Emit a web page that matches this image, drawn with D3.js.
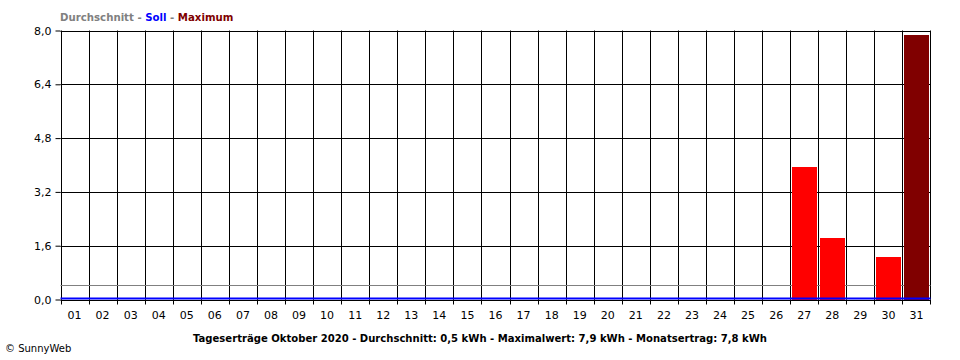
<!DOCTYPE html>
<html><head><meta charset="utf-8">
<script src="https://cdn.jsdelivr.net/npm/d3@7"></script>
<style>body{margin:0;background:#fff}svg{display:block}text{font-family:"DejaVu Sans",Verdana,sans-serif}</style>
</head><body>
<svg id="c" width="960" height="360"></svg>
<script>
const days = ["01","02","03","04","05","06","07","08","09","10","11","12","13","14","15","16","17","18","19","20","21","22","23","24","25","26","27","28","29","30","31"];
const values = [0,0,0,0,0,0,0,0,0,0,0,0,0,0,0,0,0,0,0,0,0,0,0,0,0,0,3.95,1.84,0,1.25,7.88];
const yTicks = [0,1.6,3.2,4.8,6.4,8.0];
const average = 0.42;
const target = 0.03;
const legendParts = [["Durchschnitt","#808080"],[" - ","#808080"],["Soll","#0000ff"],[" - ","#808080"],["Maximum","#800000"]];
const title = "Tageserträge Oktober 2020 - Durchschnitt: 0,5 kWh - Maximalwert: 7,9 kWh - Monatsertrag: 7,8 kWh";

const svg = d3.select("#c");
const L=60.5, R=930.5, T=30.5, B=299.5;
const xs = d3.scaleBand().domain(days).range([L,R]);
const y = d3.scaleLinear().domain([0,8]).range([B,T]);
const maxV = d3.max(values);

// grid
const g = svg.append("g");
g.selectAll("line.h").data(yTicks).join("line")
  .attr("x1",L).attr("x2",R).attr("y1",d=>Math.round(y(d))+0.5).attr("y2",d=>Math.round(y(d))+0.5)
  .attr("stroke","#000");
g.selectAll("line.v").data(days).join("line")
  .attr("x1",d=>Math.round(xs(d))+0.5).attr("x2",d=>Math.round(xs(d))+0.5).attr("y1",T).attr("y2",B)
  .attr("stroke","#000");
g.append("line").attr("x1",R).attr("x2",R).attr("y1",T).attr("y2",B).attr("stroke","#000");

// average line
svg.append("line").attr("x1",L).attr("x2",R).attr("y1",Math.round(y(average))+0.5).attr("y2",Math.round(y(average))+0.5)
  .attr("stroke","#808080");

// bars
svg.selectAll("rect.bar").data(values.map((v,i)=>({d:days[i],v}))).join("rect")
  .attr("x",d=>Math.round(xs(d.d))+2).attr("width",Math.round(xs.bandwidth())-3)
  .attr("y",d=>Math.round(y(d.v))).attr("height",d=>Math.max(0,Math.round(B)-Math.round(y(d.v))))
  .attr("fill",d=>d.v===maxV?"#800000":"#ff0000");

// target line
svg.append("line").attr("x1",L).attr("x2",R).attr("y1",y(target)).attr("y2",y(target))
  .attr("stroke","#0000ff").attr("stroke-width",2);

// axes
const ya = svg.append("g").attr("transform",`translate(${L},0)`)
  .call(d3.axisLeft(y).tickValues(yTicks).tickSize(5).tickPadding(4).tickFormat(d=>d3.format(".1f")(d).replace(".",",")));
ya.select(".domain").remove();
ya.selectAll("text").attr("font-size",11).attr("fill","#000").style("font-family","'DejaVu Sans',Verdana,sans-serif");
ya.selectAll("line").attr("stroke","#000");

const xa = svg.append("g").attr("transform",`translate(0,${B})`)
  .call(d3.axisBottom(xs).tickSize(0).tickPadding(12));
xa.select(".domain").remove();
xa.selectAll("text").attr("font-size",11).attr("fill","#000").style("font-family","'DejaVu Sans',Verdana,sans-serif");
svg.append("g").selectAll("line").data(days.concat(["end"])).join("line")
  .attr("x1",(d,i)=>i<days.length?Math.round(xs(d))+0.5:R).attr("x2",(d,i)=>i<days.length?Math.round(xs(d))+0.5:R)
  .attr("y1",B).attr("y2",B+5).attr("stroke","#000");

// legend
const lt = svg.append("text").attr("x",60).attr("y",21).attr("font-size",10.2).attr("font-weight","bold")
  .attr("xml:space","preserve");
lt.selectAll("tspan").data(legendParts).join("tspan").text(d=>d[0]).attr("fill",d=>d[1]);

svg.append("text").attr("x",480).attr("y",342).attr("text-anchor","middle").attr("font-size",11).attr("font-weight","bold")
  .attr("textLength",574).attr("lengthAdjust","spacingAndGlyphs").text(title);
svg.append("text").attr("x",5).attr("y",352).attr("font-size",10).text("© SunnyWeb");
</script>
</body></html>
